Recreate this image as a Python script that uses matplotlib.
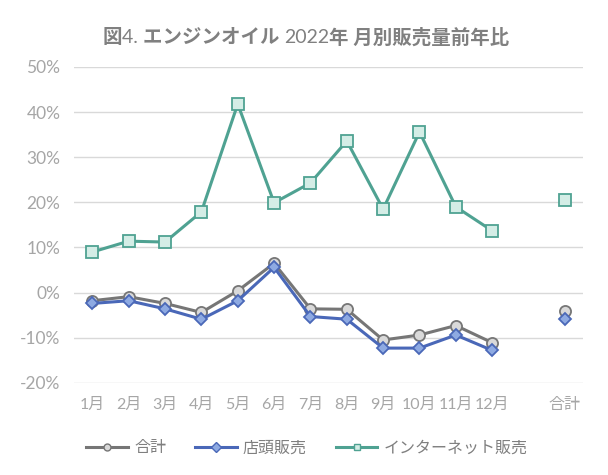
import matplotlib
matplotlib.use("Agg")
import matplotlib.pyplot as plt
import numpy as np

months = ["1月", "2月", "3月", "4月", "5月", "6月", "7月", "8月", "9月", "10月", "11月", "12月", "", "合計"]

total = [-1.8, -0.9, -2.4, -4.4, 0.4, 6.5, -3.6, -3.7, -10.5, -9.4, -7.3, -11.1, None, -4.1]
store = [-2.4, -1.8, -3.6, -5.9, -1.8, 5.6, -5.3, -5.9, -12.3, -12.3, -9.4, -12.8, None, -5.9]
online = [9.0, 11.4, 11.2, 17.9, 41.8, 19.9, 24.3, 33.6, 18.5, 35.6, 19.0, 13.7, None, 20.5]

yticks = [-20, -10, 0, 10, 20, 30, 40, 50]

FONTS = ["Lato", "Noto Sans CJK JP", "DejaVu Sans"]
plt.rcParams["font.family"] = FONTS


def to_arr(vals):
    return np.array([np.nan if v is None else v for v in vals], dtype=float)


def main() -> None:
    fig = plt.figure(figsize=(6.08, 4.75), dpi=100)
    ax = fig.add_axes([0.122, 0.194, 0.837, 0.665])

    x = np.arange(len(months))
    series = [
        ("合計", total, "#767676", "#d9d9d9", "o", 8),
        ("店頭販売", store, "#4a68b8", "#8eaae2", "D", 6.5),
        ("インターネット販売", online, "#4fa292", "#d4ede6", "s", 8),
    ]
    for name, vals, col, face, mk, ms in series:
        ax.plot(x, to_arr(vals), color=col, lw=2.2, marker=mk, ms=ms,
                mfc=face, mec=col, mew=1.3, label=name, zorder=3)

    ax.set_xlim(-0.5, len(months) - 0.5)
    ax.set_ylim(-20, 50)
    ax.set_yticks(yticks)
    ax.set_yticklabels([f"{t}%" if t >= 0 else f"-{abs(t)}%" for t in yticks])
    ax.set_xticks(x)
    ax.set_xticklabels(months)
    ax.tick_params(length=0, labelsize=12.5, labelcolor="#a6a6a6", pad=10)
    ax.tick_params(axis="x", labelsize=11.5, pad=11)
    ax.grid(axis="y", color="#d9d9d9", lw=1)
    ax.set_axisbelow(True)
    for s in ax.spines.values():
        s.set_visible(False)

    leg = fig.legend(loc="center", bbox_to_anchor=(0.505, 0.057), ncol=3, frameon=False,
                     fontsize=11.5, handlelength=2.6, columnspacing=1.8, handletextpad=0.4)
    for t in leg.get_texts():
        t.set_color("#7f7f7f")
    for h in leg.legend_handles:
        h.set_markersize(5)
        h.set_markeredgewidth(1.0)

    # title with mixed weights
    pieces = [("図", "bold"), ("4. ", "normal"), ("エンジンオイル ", "bold"),
              ("2022", "normal"), ("年 月別販売量前年比", "bold")]
    fig.canvas.draw()
    r = fig.canvas.get_renderer()
    texts = []
    for s, w in pieces:
        texts.append(fig.text(0, 0.922, s, fontsize=14, fontweight=w, color="#808080",
                              va="center", ha="left"))
    widths = [t.get_window_extent(r).width for t in texts]
    total_w = sum(widths)
    cx = 0.503 * fig.bbox.width
    xpos = cx - total_w / 2
    for t, w in zip(texts, widths):
        t.set_x(xpos / fig.bbox.width)
        xpos += w

    fig.savefig("out.png", dpi=100)


if __name__ == "__main__":
    main()
